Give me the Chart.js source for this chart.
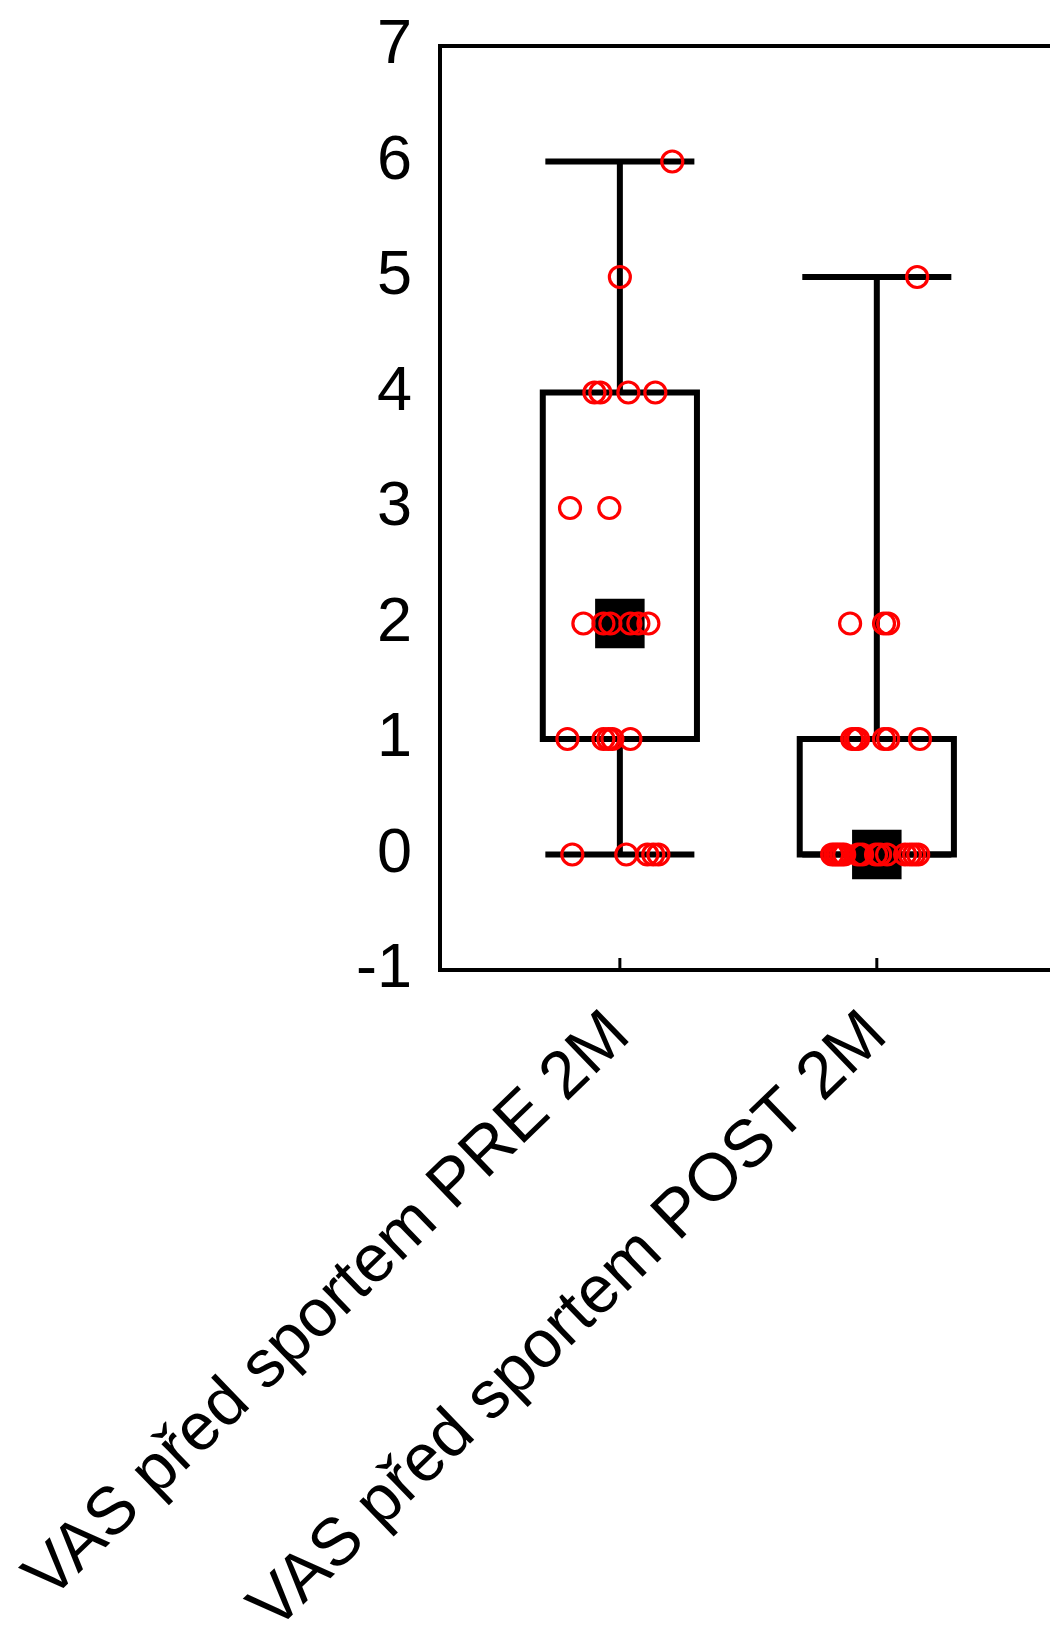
<!DOCTYPE html>
<html>
<head>
<meta charset="utf-8">
<script src="https://cdn.jsdelivr.net/npm/chart.js@4.4.1/dist/chart.umd.min.js"></script>
<style>
  html, body { margin: 0; padding: 0; background: #ffffff; overflow: hidden; }
  #wrap { width: 1050px; height: 1627px; position: relative; }
</style>
</head>
<body>
<div id="wrap"><canvas id="c"></canvas></div>
<script>
// ---- Data ----
const categories = ['VAS před sportem PRE 2M', 'VAS před sportem POST 2M'];
const yTicks = [-1, 0, 1, 2, 3, 4, 5, 6, 7];

const boxMin    = [0, 0];
const boxQ1     = [1, 0];
const boxMedian = [2, 0];
const boxQ3     = [4, 1];
const boxMax    = [6, 5];

// individual observations (red circles) and their horizontal jitter
const preValues = [6, 5, 4, 4, 4, 4, 3, 3, 2, 2, 2, 2, 2, 2, 1, 1, 1, 1, 1, 0, 0, 0, 0, 0];
const preJitter = [0.204, 0.0, -0.099, -0.076, 0.033, 0.138, -0.194, -0.041,
                   -0.142, -0.064, -0.037, 0.041, 0.072, 0.111,
                   -0.204, -0.064, -0.045, -0.029, 0.041,
                   -0.185, 0.025, 0.107, 0.130, 0.150];
const postValues = [5, 2, 2, 2, 1, 1, 1, 1, 1, 1, 0, 0, 0, 0, 0, 0, 0, 0, 0, 0, 0, 0, 0, 0];
const postJitter = [0.157, -0.104, 0.028, 0.044,
                    -0.096, -0.084, -0.073, 0.028, 0.044, 0.168,
                    -0.174, -0.162, -0.151, -0.139, -0.127, -0.073, -0.057, -0.003,
                    0.013, 0.040, 0.110, 0.129, 0.145, 0.161];

// ---- Build datasets from the arrays ----
const BOX_HALF = 0.30;
const CAP_HALF = 0.29;
const FONT = "'Liberation Sans', Arial, Helvetica, sans-serif";

const pointData = [];
preValues.forEach((v, i) => pointData.push({ x: 1 + preJitter[i], y: v }));
postValues.forEach((v, i) => pointData.push({ x: 2 + postJitter[i], y: v }));

const boxLines = [];
const whiskerLines = [];
const medians = [];
categories.forEach((c, i) => {
  const x = i + 1;
  boxLines.push(
    { x: x - BOX_HALF, y: boxQ1[i] }, { x: x + BOX_HALF, y: boxQ1[i] },
    { x: x + BOX_HALF, y: boxQ3[i] }, { x: x - BOX_HALF, y: boxQ3[i] },
    { x: x - BOX_HALF, y: boxQ1[i] }, { x: x + BOX_HALF, y: boxQ1[i] },
    { x: x, y: null }
  );
  whiskerLines.push(
    { x: x, y: boxQ3[i] }, { x: x, y: boxMax[i] }, { x: x, y: null },
    { x: x - CAP_HALF, y: boxMax[i] }, { x: x + CAP_HALF, y: boxMax[i] }, { x: x, y: null },
    { x: x, y: boxQ1[i] }, { x: x, y: boxMin[i] }, { x: x, y: null },
    { x: x - CAP_HALF, y: boxMin[i] }, { x: x + CAP_HALF, y: boxMin[i] }, { x: x, y: null }
  );
  medians.push({ x: x, y: boxMedian[i] });
});

const frameAndTicks = {
  id: 'frameAndTicks',
  afterDatasetsDraw(chart) {
    const xs = chart.scales.x, ca = chart.chartArea, ctx = chart.ctx;
    ctx.save();
    ctx.strokeStyle = '#000';
    ctx.lineWidth = 4;
    ctx.beginPath();
    ctx.moveTo(ca.left - 2, ca.top);
    ctx.lineTo(ca.right, ca.top);
    ctx.stroke();
    ctx.lineWidth = 3;
    xs.ticks.forEach(t => {
      const px = xs.getPixelForValue(t.value);
      ctx.beginPath();
      ctx.moveTo(px, ca.bottom);
      ctx.lineTo(px, ca.bottom - 12);
      ctx.stroke();
    });
    ctx.restore();
  }
};

new Chart(document.getElementById('c'), {
  type: 'scatter',
  data: {
    datasets: [
      {
        label: 'points',
        data: pointData,
        pointStyle: 'circle',
        pointRadius: 10.5,
        pointHoverRadius: 10.5,
        pointBorderWidth: 3.2,
        pointBorderColor: '#ff0000',
        pointBackgroundColor: 'rgba(0,0,0,0)',
        showLine: false,
        order: 0
      },
      {
        label: 'median',
        data: medians,
        pointStyle: 'rect',
        pointRadius: 35,
        pointHoverRadius: 35,
        pointBorderWidth: 0,
        pointBackgroundColor: '#000',
        pointBorderColor: '#000',
        showLine: false,
        order: 1
      },
      {
        label: 'box',
        data: boxLines,
        showLine: true,
        spanGaps: false,
        borderColor: '#000',
        borderWidth: 6,
        borderJoinStyle: 'miter',
        borderCapStyle: 'butt',
        pointRadius: 0,
        pointHoverRadius: 0,
        order: 2
      },
      {
        label: 'whiskers',
        data: whiskerLines,
        showLine: true,
        spanGaps: false,
        borderColor: '#000',
        borderWidth: 6,
        borderCapStyle: 'butt',
        pointRadius: 0,
        pointHoverRadius: 0,
        order: 3
      }
    ]
  },
  options: {
    responsive: true,
    maintainAspectRatio: false,
    animation: false,
    events: [],
    layout: { autoPadding: false, padding: { top: 46, left: 0, right: 0, bottom: 0 } },
    plugins: { legend: { display: false }, tooltip: { enabled: false } },
    scales: {
      x: {
        type: 'linear',
        position: 'bottom',
        min: 0.3,
        max: 2.674,
        afterBuildTicks: (s) => { s.ticks = categories.map((c, i) => ({ value: i + 1 })); },
        afterFit: (s) => { s.height = 657; s.paddingLeft = 0; s.paddingRight = 0; },
        grid: { display: false, drawTicks: false },
        border: { display: true, color: '#000', width: 4 },
        ticks: {
          autoSkip: false,
          minRotation: 44,
          maxRotation: 44,
          padding: 26,
          color: '#000',
          font: { family: FONT, size: 67 },
          callback: (v) => categories[Math.round(v) - 1] || ''
        }
      },
      y: {
        type: 'linear',
        min: -1,
        max: 7,
        afterBuildTicks: (s) => { s.ticks = yTicks.map(v => ({ value: v })); },
        afterFit: (s) => { s.width = 440; s.paddingTop = 0; s.paddingBottom = 0; },
        grid: { display: false, drawTicks: false },
        border: { display: true, color: '#000', width: 4 },
        ticks: {
          padding: 28,
          color: '#000',
          font: { family: FONT, size: 63 },
          callback: (v) => String(v)
        }
      }
    }
  },
  plugins: [frameAndTicks]
});
</script>
</body>
</html>
